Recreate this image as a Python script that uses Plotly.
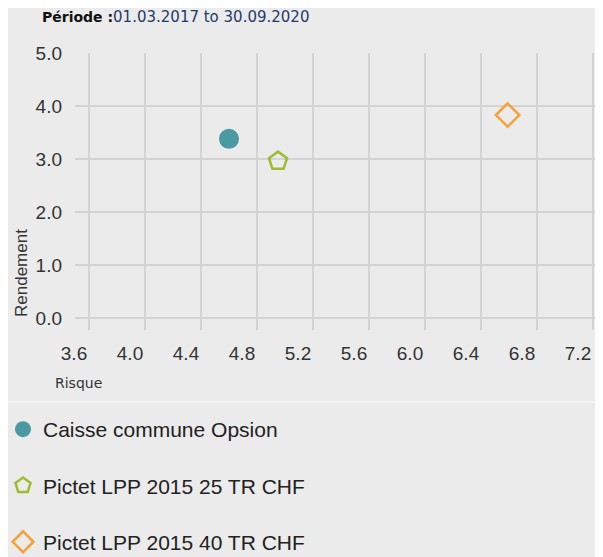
import plotly.graph_objects as go

# ---- data ----
names = ["Caisse commune Opsion", "Pictet LPP 2015 25 TR CHF", "Pictet LPP 2015 40 TR CHF"]
risque = [4.60, 4.95, 6.59]
rendement = [3.38, 2.96, 3.83]
symbols = ["circle", "pentagon-open", "diamond-open"]
colors = ["#4a9ba1", "#9cbd2e", "#f7a237"]
sizes = [20, 19, 18]
x_ticks = [3.6, 4.0, 4.4, 4.8, 5.2, 5.6, 6.0, 6.4, 6.8, 7.2]
y_ticks = [0.0, 1.0, 2.0, 3.0, 4.0, 5.0]
period_label = "Période :"
period_text = "01.03.2017 to 30.09.2020"

# The page body has an 8px margin; all target positions below are screen pixels.
OFF = 8
W, H = 603 - OFF, 557 - OFF
L, R, T, B = 75, 595, 53, 330  # plot area in screen pixels


def px(x):
    return (x - L) / (R - L)


def py(y):
    return (B - y) / (B - T)


fig = go.Figure()
for i in range(len(names)):
    fig.add_trace(go.Scatter(
        x=[risque[i]], y=[rendement[i]], mode="markers", name=names[i],
        legendgroup=f"g{i}",
        marker=dict(symbol=symbols[i], size=sizes[i], color=colors[i],
                    line=dict(color=colors[i], width=2.5 if i else 0)),
        hovertemplate="%{x:.2f}, %{y:.2f}<extra>" + names[i] + "</extra>",
    ))

grid = "#d3d3d3"
fig.update_layout(
    width=W, height=H,
    margin=dict(l=L - OFF, r=W - (R - OFF), t=T - OFF, b=H - (B - OFF), pad=0, autoexpand=False),
    paper_bgcolor="#f6f6f6",
    plot_bgcolor="#ebebeb",
    font=dict(family="Liberation Sans, Arial, sans-serif", color="#333333"),
    xaxis=dict(range=[3.6 - (89 - L) / 140.0, 3.6 + (R - 89) / 140.0], tickvals=x_ticks,
               ticktext=[f"{v:.1f}" for v in x_ticks],
               showgrid=True, gridcolor=grid, gridwidth=1.5, zeroline=False,
               showline=False, ticks="", ticklabelshift=-15, ticklabelstandoff=10,
               tickfont=dict(size=19, color="#333333"), fixedrange=True),
    yaxis=dict(range=[-(B - 318) / 53.0, 5.0], tickvals=y_ticks,
               ticktext=[f"{v:.1f}" for v in y_ticks],
               showgrid=True, gridcolor=grid, gridwidth=1.5, zeroline=False,
               showline=False, ticks="", ticklabelstandoff=12,
               tickfont=dict(size=19, color="#333333"), fixedrange=True),
    legend=dict(x=px(3), y=py(409), xanchor="left", yanchor="top",
                orientation="v", tracegroupgap=26, bgcolor="rgba(0,0,0,0)",
                font=dict(size=21, color="#222222", family="Liberation Sans, Arial, sans-serif"),
                itemsizing="trace"),
    showlegend=True,
)

shapes = [
    dict(type="rect", xref="paper", yref="paper", x0=px(6), x1=px(597), y0=py(560), y1=py(0),
         fillcolor="#ebebeb", line=dict(width=0), layer="below"),
    dict(type="line", xref="paper", yref="paper", x0=px(6), x1=px(597), y0=py(402), y1=py(402),
         line=dict(color="#f3f3f3", width=2), layer="below"),
]
fig.update_layout(shapes=shapes)

fig.add_annotation(
    xref="paper", yref="paper", x=px(40), y=py(17), xanchor="left", yanchor="middle",
    showarrow=False,
    text=f"<b>{period_label}</b><span style='font-size:15px;color:#1f3b6b'>{period_text}</span>",
    font=dict(family="DejaVu Sans, Verdana, sans-serif", size=14, color="#111111"),
)
fig.add_annotation(
    xref="paper", yref="paper", x=px(53), y=py(383), xanchor="left", yanchor="middle",
    showarrow=False, text="Risque",
    font=dict(family="DejaVu Sans, Verdana, sans-serif", size=14, color="#333333"),
)
fig.add_annotation(
    xref="paper", yref="paper", x=px(21), y=py(273), xanchor="center", yanchor="middle",
    showarrow=False, text="Rendement", textangle=-90,
    font=dict(family="Liberation Sans, Arial, sans-serif", size=17, color="#333333"),
)

fig.write_html("out.html")
